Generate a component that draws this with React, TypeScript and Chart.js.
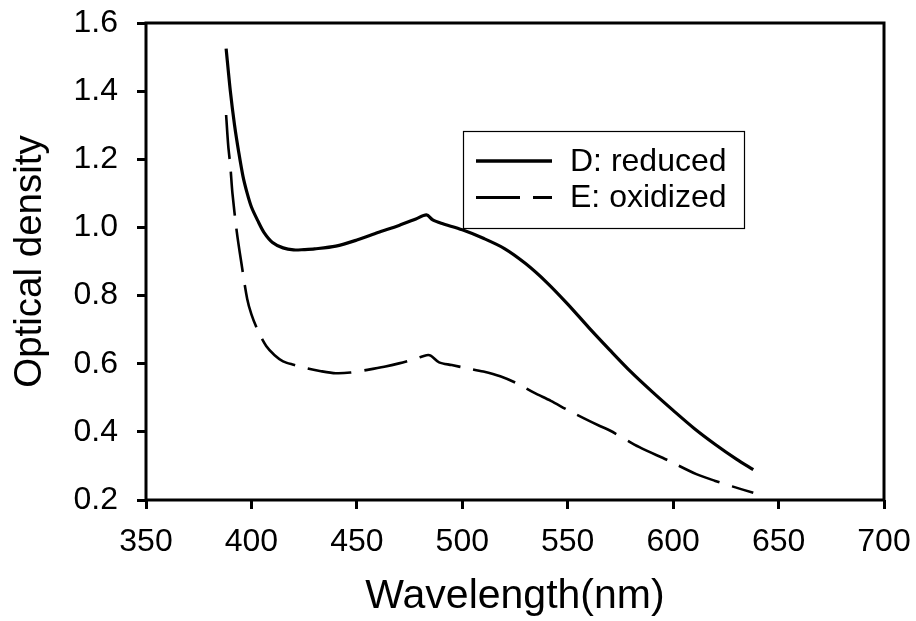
import { useEffect, useRef } from "react";
import { Chart, registerables } from "chart.js";

Chart.register(...registerables);

const reducedX = [388, 390, 392, 394, 396, 398, 400, 403, 406, 410, 415, 420, 425, 430, 440, 450, 460, 470, 478, 483, 486, 490, 500, 510, 520, 530, 540, 550, 560, 570, 580, 590, 600, 610, 620, 630, 638];
const reducedY = [1.525, 1.40, 1.30, 1.22, 1.15, 1.10, 1.06, 1.02, 0.985, 0.956, 0.94, 0.934, 0.935, 0.937, 0.945, 0.963, 0.985, 1.006, 1.025, 1.037, 1.022, 1.012, 0.993, 0.968, 0.938, 0.894, 0.839, 0.775, 0.706, 0.64, 0.576, 0.518, 0.463, 0.41, 0.363, 0.32, 0.289];

const oxidizedX = [388, 389, 390, 391, 393, 395, 398, 400, 403, 407, 411, 415, 420, 426, 433, 440, 447, 455, 463, 470, 478, 483, 485, 489, 495, 502, 510, 518, 526, 534, 542, 550, 558, 565, 570, 584, 597, 611, 620, 628, 638];
const oxidizedY = [1.33, 1.24, 1.18, 1.10, 0.99, 0.905, 0.79, 0.745, 0.698, 0.652, 0.625, 0.607, 0.597, 0.587, 0.578, 0.572, 0.574, 0.582, 0.591, 0.601, 0.615, 0.625, 0.624, 0.604, 0.596, 0.587, 0.577, 0.563, 0.542, 0.515, 0.491, 0.464, 0.439, 0.418, 0.404, 0.355, 0.318, 0.276, 0.256, 0.24, 0.221];

const xTicks = [350, 400, 450, 500, 550, 600, 650, 700];
const yTicks = [0.2, 0.4, 0.6, 0.8, 1.0, 1.2, 1.4, 1.6];
const seriesLabels = ["D: reduced", "E: oxidized"];
const xTitle = "Wavelength(nm)";
const yTitle = "Optical density";

const FONT = "'Liberation Sans', Arial, Helvetica, sans-serif";

const framePlugin = {
  id: "frame",
  afterDraw(chart: any) {
    const { ctx, chartArea } = chart;
    ctx.save();
    ctx.strokeStyle = "#000";
    ctx.lineWidth = 3;
    ctx.strokeRect(chartArea.left, chartArea.top, chartArea.right - chartArea.left, chartArea.bottom - chartArea.top);
    ctx.restore();
  },
};

const legendPlugin = {
  id: "boxLegend",
  afterDraw(chart: any) {
    const { ctx } = chart;
    const x0 = 463.5, y0 = 131.5, w = 281, h = 97;
    ctx.save();
    ctx.fillStyle = "#fff";
    ctx.fillRect(x0, y0, w, h);
    ctx.strokeStyle = "#000";
    ctx.lineWidth = 1.2;
    ctx.strokeRect(x0, y0, w, h);
    chart.data.datasets.forEach((ds: any, i: number) => {
      const cy = 161 + i * 36.5;
      ctx.beginPath();
      ctx.setLineDash(ds.borderDash || []);
      ctx.lineWidth = i === 0 ? 3.6 : 2.8;
      ctx.strokeStyle = "#000";
      ctx.moveTo(476, cy);
      ctx.lineTo(552, cy);
      ctx.stroke();
      ctx.setLineDash([]);
      ctx.fillStyle = "#000";
      ctx.font = `32px ${FONT}`;
      ctx.textBaseline = "middle";
      ctx.textAlign = "left";
      ctx.fillText(ds.label, 570, cy + 1);
    });
    ctx.restore();
  },
};

export default function App() {
  const ref = useRef<HTMLCanvasElement | null>(null);
  useEffect(() => {
    document.body.style.margin = "0";
    const canvas = ref.current;
    if (!canvas) return;
    const chart = new Chart(canvas, {
      type: "line",
      data: {
        datasets: [
          {
            label: seriesLabels[0],
            data: reducedX.map((x, i) => ({ x, y: reducedY[i] })),
            borderColor: "#000",
            borderWidth: 3.2,
            pointRadius: 0,
            fill: false,
            tension: 0.3,
          },
          {
            label: seriesLabels[1],
            data: oxidizedX.map((x, i) => ({ x, y: oxidizedY[i] })),
            borderColor: "#000",
            borderWidth: 2.6,
            borderDash: [44, 13],
            pointRadius: 0,
            fill: false,
            tension: 0.3,
          },
        ],
      },
      options: {
        responsive: false,
        maintainAspectRatio: false,
        animation: false,
        layout: { padding: { left: 0, top: 23, right: 32, bottom: 0 } },
        plugins: { legend: { display: false }, tooltip: { enabled: false } },
        scales: {
          x: {
            type: "linear",
            min: xTicks[0],
            max: xTicks[xTicks.length - 1],
            afterBuildTicks: (scale: any) => {
              scale.ticks = xTicks.map((v) => ({ value: v }));
            },
            afterFit: (scale: any) => {
              scale.height = 121;
              scale.paddingLeft = 0;
              scale.paddingRight = 0;
              scale.paddingTop = 0;
              scale.paddingBottom = 0;
            },
            border: { display: false },
            grid: { drawOnChartArea: false, drawTicks: true, tickLength: 9, tickWidth: 3, tickColor: "#000", color: "#000" },
            ticks: { color: "#000", font: { family: FONT, size: 32 }, padding: 14, maxRotation: 0, autoSkip: false, callback: (v: any) => String(v) },
            title: { display: true, text: xTitle, color: "#000", font: { family: FONT, size: 41 }, padding: { top: 0, bottom: 0 } },
          },
          y: {
            type: "linear",
            min: yTicks[0],
            max: yTicks[yTicks.length - 1],
            afterBuildTicks: (scale: any) => {
              scale.ticks = yTicks.map((v) => ({ value: v }));
            },
            afterFit: (scale: any) => {
              scale.width = 146;
              scale.paddingLeft = 0;
              scale.paddingRight = 0;
              scale.paddingTop = 0;
              scale.paddingBottom = 0;
            },
            border: { display: false },
            grid: { drawOnChartArea: false, drawTicks: true, tickLength: 9, tickWidth: 3, tickColor: "#000", color: "#000" },
            ticks: { color: "#000", font: { family: FONT, size: 32 }, padding: 19, autoSkip: false, callback: (v: any) => Number(v).toFixed(1) },
            title: { display: true, text: yTitle, color: "#000", font: { family: FONT, size: 38.5 }, padding: { top: 7, bottom: 0 } },
          },
        },
      },
      plugins: [framePlugin, legendPlugin],
    });
    return () => chart.destroy();
  }, []);
  return (
    <div style={{ width: 916, height: 621, background: "#fff" }}>
      <canvas ref={ref} width={916} height={621} style={{ display: "block" }} />
    </div>
  );
}
